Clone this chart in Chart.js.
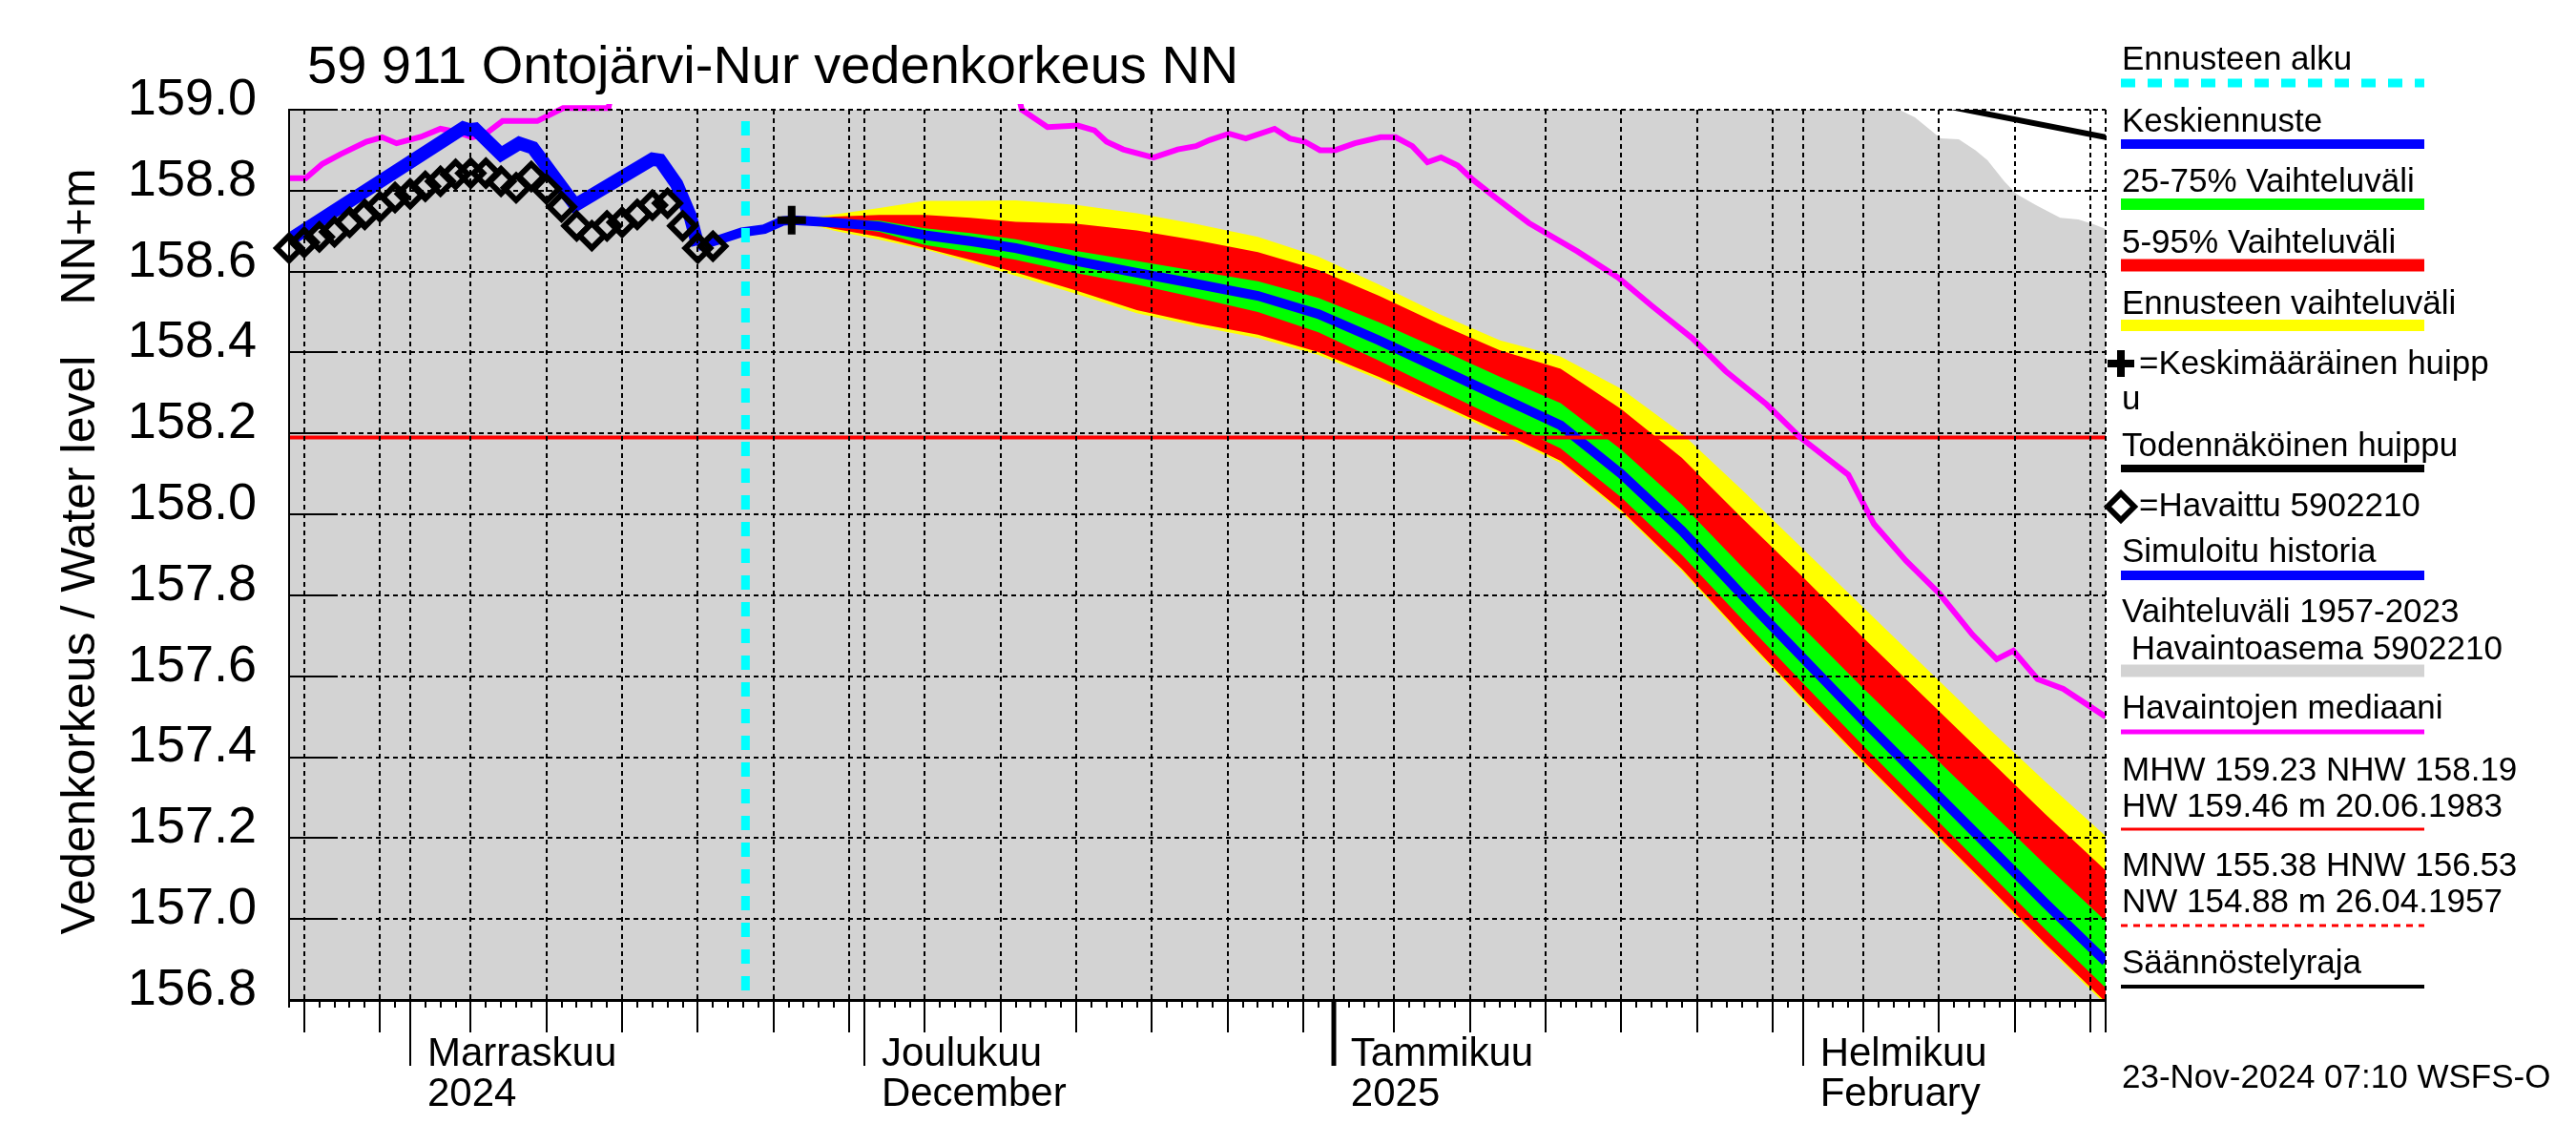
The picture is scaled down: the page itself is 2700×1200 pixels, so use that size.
<!DOCTYPE html>
<html>
<head>
<meta charset="utf-8">
<title>Ontojärvi-Nur vedenkorkeus</title>
<script src="https://cdn.jsdelivr.net/npm/chart.js@4.4.1/dist/chart.umd.min.js"></script>
<style>
  html, body { margin: 0; padding: 0; background: #fff; }
  #wrap { width: 2700px; height: 1200px; }
</style>
</head>
<body>
<div id="wrap"><canvas id="level_chart" width="2700" height="1200"></canvas></div>
<script>
// x = day number, 1 Nov 2024 = 0 (Oct 24 = -8, Dec 1 = 30, Jan 1 = 61, Feb 1 = 92)
const gridDays = [-7, -2, 0, 4, 9, 14, 19, 24, 29, 30, 34, 39, 44, 49, 54, 59, 61, 65, 70, 75, 80, 85, 90, 92, 96, 101, 106, 111, 112];
const monthStarts = [0, 30, 61, 92];
const monthLabels = [['Marraskuu', '2024'], ['Joulukuu', 'December'], ['Tammikuu', '2025'], ['Helmikuu', 'February']];

// Havaittu 5902210 (daily)
const obsDays = [-8, -7, -6, -5, -4, -3, -2, -1, 0, 1, 2, 3, 4, 5, 6, 7, 8, 9, 10, 11, 12, 13, 14, 15, 16, 17, 18, 19, 20];
const obsLevel = [158.658, 158.672, 158.686, 158.698, 158.722, 158.741, 158.760, 158.783, 158.792, 158.811,
  158.823, 158.840, 158.843, 158.843, 158.823, 158.807, 158.835, 158.804, 158.760, 158.713,
  158.689, 158.713, 158.722, 158.741, 158.764, 158.769, 158.713, 158.658, 158.663];

// Simuloitu historia
const simDays = [-8, 3.5, 3.9, 4.3, 6.0, 7.2, 8.1, 10.9, 16.0, 16.5, 17.6, 18.5, 19.0];
const simLevel = [158.678, 158.955, 158.950, 158.952, 158.890, 158.917, 158.906, 158.764, 158.878, 158.875, 158.816, 158.737, 158.665];

// Keskiennuste
const fcDays = [19.0, 20.5, 21.9, 23.4, 24.6, 25.3, 28, 31, 34, 37, 40, 44, 48, 52, 56, 60, 64, 68, 72, 76, 80, 84, 88, 92, 96, 100, 104, 108, 112];
const fcMedian = [158.663, 158.680, 158.697, 158.705, 158.725, 158.727, 158.721, 158.712, 158.690, 158.675,
  158.658, 158.626, 158.597, 158.569, 158.540, 158.495, 158.430, 158.360, 158.290, 158.220,
  158.100, 157.960, 157.800, 157.645, 157.490, 157.340, 157.190, 157.040, 156.895];

// forecast spread
const bandDays = [25.3, 28, 31, 34, 37, 40, 44, 48, 52, 56, 60, 64, 68, 72, 76, 80, 84, 88, 92, 96, 100, 104, 108, 112];
const fcMax = [158.727, 158.741, 158.757, 158.775, 158.775, 158.776, 158.765, 158.744, 158.717, 158.686, 158.637, 158.568,
  158.495, 158.430, 158.390, 158.310, 158.200, 158.060, 157.915, 157.770, 157.625, 157.480, 157.340, 157.205];
const fc95 = [158.727, 158.736, 158.740, 158.740, 158.733, 158.723, 158.718, 158.702, 158.677, 158.648, 158.604, 158.540,
  158.470, 158.405, 158.360, 158.260, 158.140, 157.990, 157.845, 157.695, 157.550, 157.405, 157.260, 157.120];
const fc75 = [158.727, 158.729, 158.726, 158.707, 158.695, 158.680, 158.651, 158.626, 158.601, 158.576, 158.535, 158.475,
  158.408, 158.340, 158.275, 158.160, 158.025, 157.870, 157.720, 157.570, 157.425, 157.280, 157.135, 156.995];
const fc25 = [158.727, 158.713, 158.698, 158.666, 158.648, 158.629, 158.596, 158.568, 158.535, 158.500, 158.450, 158.380,
  158.307, 158.235, 158.163, 158.042, 157.900, 157.740, 157.583, 157.428, 157.277, 157.126, 156.975, 156.830];
const fc5 = [158.727, 158.706, 158.686, 158.658, 158.629, 158.598, 158.553, 158.505, 158.472, 158.444, 158.401, 158.340,
  158.273, 158.205, 158.132, 158.010, 157.865, 157.703, 157.545, 157.390, 157.240, 157.090, 156.940, 156.795];
const fcMin = [158.727, 158.701, 158.679, 158.655, 158.623, 158.590, 158.545, 158.497, 158.465, 158.436, 158.394, 158.333,
  158.267, 158.198, 158.127, 158.005, 157.860, 157.697, 157.539, 157.384, 157.234, 157.084, 156.934, 156.789];

// Vaihteluväli 1957-2023
const rangeDays = [-8, 97.9, 98.1, 99.4, 101.1, 102.3, 103.4, 104.2, 105.3, 106.1, 107.4, 109.0, 110.2, 111.2, 112];
const rangeHigh = [159.3, 159.05, 159.005, 158.981, 158.929, 158.927, 158.900, 158.875, 158.823, 158.792, 158.764, 158.733, 158.729, 158.717, 158.705];
const rangeLowDays = [-8, 112];
const rangeLow = [156.0, 156.0];

// Havaintojen mediaani
const medDays = [-8, -6.9, -5.8, -4.6, -2.9, -1.85, -0.9, 0.7, 2.0, 3.1, 4.1, 5.0, 6.1, 8.4, 10.1, 13.1, 13.6, 39.8, 40.4, 42.1,
  44.1, 45.2, 46.0, 47.1, 49.1, 50.7, 51.9, 52.8, 54.1, 55.2, 57.1, 58.1, 59.1, 60.1, 61.1, 62.4, 64.1, 65.1, 66.2, 67.2,
  68.1, 69.2, 70.2, 71.8, 73.9, 77.1, 79.8, 82.0, 84.7, 86.9, 89.6, 91.8, 95.0, 96.7, 98.8, 101.0, 103.2, 104.8, 105.9, 107.5,
  109.2, 112];
const medLevel = [158.831, 158.831, 158.866, 158.890, 158.921, 158.932, 158.917, 158.933, 158.953, 158.945, 158.932, 158.941, 158.972, 158.972, 159.004, 159.004, 159.1, 159.1, 159.0, 158.957,
  158.961, 158.949, 158.921, 158.902, 158.882, 158.902, 158.910, 158.925, 158.941, 158.929, 158.953, 158.929, 158.921, 158.900, 158.900, 158.917, 158.932, 158.932, 158.910, 158.870,
  158.882, 158.862, 158.827, 158.780, 158.720, 158.650, 158.585, 158.516, 158.435, 158.354, 158.272, 158.191, 158.098, 157.976, 157.886, 157.805, 157.703, 157.642, 157.663, 157.593,
  157.569, 157.500];

// Säännöstelyraja, NHW, mean peak, forecast start
const regDays = [100, 112];
const regLevel = [159.02, 158.932];
const nhwLevel = 158.19;
const peakDay = 25.2;
const peakLevel = 158.727;
const forecastStart = 22.15;

function pairs(xs, ys) {
  return xs.map((d, i) => ({ x: d, y: ys[i] }));
}

const FONT = '"Liberation Sans", Arial, Helvetica, sans-serif';
Chart.defaults.font.family = FONT;
Chart.defaults.color = '#000';

const extras = {
  id: 'extras',
  afterDraw(chart) {
    const ctx = chart.ctx;
    const xs = chart.scales.x;
    const ys = chart.scales.y;
    const area = chart.chartArea;
    ctx.save();
    ctx.setLineDash([]);
    ctx.strokeStyle = '#000';

    // solid stubs at the left end of level grid lines
    ctx.lineWidth = 2;
    ys.ticks.forEach(t => {
      const py = Math.round(ys.getPixelForValue(t.value));
      ctx.beginPath();
      ctx.moveTo(area.left, py);
      ctx.lineTo(area.left + 46, py);
      ctx.stroke();
    });

    // day ticks below the axis
    for (let d = -8; d <= 112; d++) {
      let len = 8;
      if (gridDays.includes(d)) len = 34;
      if (monthStarts.includes(d)) len = 69;
      ctx.lineWidth = d === 61 ? 5 : 2;
      const px = Math.round(xs.getPixelForValue(d));
      ctx.beginPath();
      ctx.moveTo(px, area.bottom);
      ctx.lineTo(px, area.bottom + len);
      ctx.stroke();
    }

    // title
    ctx.fillStyle = '#000';
    ctx.textBaseline = 'alphabetic';
    ctx.textAlign = 'left';
    ctx.font = '56px ' + FONT;
    ctx.fillText('59 911 Ontojärvi-Nur vedenkorkeus NN', 322, 87);

    // y axis title
    ctx.font = '50px ' + FONT;
    ctx.textAlign = 'center';
    ctx.save();
    ctx.translate(99, 676);
    ctx.rotate(-Math.PI / 2);
    ctx.fillText('Vedenkorkeus / Water level', 0, 0);
    ctx.restore();
    ctx.save();
    ctx.translate(99, 248);
    ctx.rotate(-Math.PI / 2);
    ctx.fillText('NN+m', 0, 0);
    ctx.restore();

    // legend
    const lx = 2224, l0 = 2223, l1 = 2541;
    function bar(yy, color, width, dash) {
      ctx.save();
      ctx.strokeStyle = color;
      ctx.lineWidth = width;
      ctx.setLineDash(dash || []);
      ctx.beginPath();
      ctx.moveTo(l0, yy);
      ctx.lineTo(l1, yy);
      ctx.stroke();
      ctx.restore();
    }
    ctx.font = '35px ' + FONT;
    ctx.textAlign = 'left';
    ctx.fillText('Ennusteen alku', lx, 73);
    bar(87, '#00ffff', 9, [15, 13]);
    ctx.fillText('Keskiennuste', lx, 138);
    bar(151, '#0000ff', 10);
    ctx.fillText('25-75% Vaihteluväli', lx, 201);
    bar(214, '#00ff00', 12);
    ctx.fillText('5-95% Vaihteluväli', lx, 265);
    bar(278, '#ff0000', 13);
    ctx.fillText('Ennusteen vaihteluväli', lx, 329);
    bar(341, '#ffff00', 12);

    ctx.lineWidth = 8;
    ctx.beginPath();
    ctx.moveTo(2209, 381); ctx.lineTo(2237, 381);
    ctx.moveTo(2223, 367); ctx.lineTo(2223, 395);
    ctx.stroke();
    ctx.fillText('=Keskimääräinen huipp', 2242, 392);
    ctx.fillText('u', lx, 429);

    ctx.fillText('Todennäköinen huippu', lx, 478);
    bar(491, '#000', 8);

    ctx.lineWidth = 6;
    ctx.beginPath();
    ctx.moveTo(2209, 531); ctx.lineTo(2223, 517); ctx.lineTo(2237, 531); ctx.lineTo(2223, 545);
    ctx.closePath();
    ctx.stroke();
    ctx.fillText('=Havaittu 5902210', 2242, 541);

    ctx.fillText('Simuloitu historia', lx, 589);
    bar(603, '#0000ff', 10);
    ctx.fillText('Vaihteluväli 1957-2023', lx, 652);
    ctx.fillText(' Havaintoasema 5902210', lx, 691);
    bar(703, '#d3d3d3', 13);
    ctx.fillText('Havaintojen mediaani', lx, 753);
    bar(767, '#ff00ff', 5);
    ctx.fillText('MHW 159.23 NHW 158.19', lx, 818);
    ctx.fillText('HW 159.46 m 20.06.1983', lx, 856);
    bar(869, '#ff0000', 3);
    ctx.fillText('MNW 155.38 HNW 156.53', lx, 918);
    ctx.fillText('NW 154.88 m 26.04.1957', lx, 956);
    bar(970, '#ff0000', 3, [7, 6]);
    ctx.fillText('Säännöstelyraja', lx, 1020);
    bar(1034, '#000', 4);

    ctx.fillText('23-Nov-2024 07:10 WSFS-O', lx, 1140);
    ctx.restore();
  }
};

const level_chart = document.getElementById('level_chart');

new Chart(level_chart, {
  type: 'line',
  data: {
    datasets: [
      {
        label: 'Vaihteluväli 1957-2023',
        data: pairs(rangeDays, rangeHigh),
        borderWidth: 0, pointRadius: 0, clip: 0, order: 20,
        fill: '+1', backgroundColor: '#d3d3d3'
      },
      {
        label: 'range low',
        data: pairs(rangeLowDays, rangeLow),
        borderWidth: 0, pointRadius: 0, clip: 0, order: 20, fill: false
      },
      {
        label: 'Ennusteen vaihteluväli',
        data: pairs(bandDays, fcMax),
        borderWidth: 0, pointRadius: 0, clip: 0, order: 18,
        fill: '+1', backgroundColor: '#ffff00'
      },
      {
        label: 'min',
        data: pairs(bandDays, fcMin),
        borderWidth: 0, pointRadius: 0, clip: 0, order: 18, fill: false
      },
      {
        label: '5-95% Vaihteluväli',
        data: pairs(bandDays, fc95),
        borderWidth: 0, pointRadius: 0, clip: 0, order: 16,
        fill: '+1', backgroundColor: '#ff0000'
      },
      {
        label: '5%',
        data: pairs(bandDays, fc5),
        borderWidth: 0, pointRadius: 0, clip: 0, order: 16, fill: false
      },
      {
        label: '25-75% Vaihteluväli',
        data: pairs(bandDays, fc75),
        borderWidth: 0, pointRadius: 0, clip: 0, order: 14,
        fill: '+1', backgroundColor: '#00ff00'
      },
      {
        label: '25%',
        data: pairs(bandDays, fc25),
        borderWidth: 0, pointRadius: 0, clip: 0, order: 14, fill: false
      },
      {
        label: 'Keskiennuste',
        data: pairs(fcDays, fcMedian),
        borderColor: '#0000ff', borderWidth: 10, pointRadius: 0, clip: 0, order: 12, fill: false
      },
      {
        label: 'NHW',
        data: [{ x: -8, y: nhwLevel }, { x: 112, y: nhwLevel }],
        borderColor: '#ff0000', borderWidth: 4, pointRadius: 0, clip: 0, order: 11, fill: false
      },
      {
        label: 'Säännöstelyraja',
        data: pairs(regDays, regLevel),
        borderColor: '#000', borderWidth: 6, pointRadius: 0, clip: 0, order: 11, fill: false
      },
      {
        label: 'Havaintojen mediaani',
        data: pairs(medDays, medLevel),
        borderColor: '#ff00ff', borderWidth: 6, pointRadius: 0,
        clip: { left: 0, top: 6, right: 0, bottom: 0 }, order: 10, fill: false
      },
      {
        label: 'Simuloitu historia',
        data: pairs(simDays, simLevel),
        borderColor: '#0000ff', borderWidth: 14, pointRadius: 0, clip: 0, order: 9, fill: false
      },
      {
        label: 'Havaittu 5902210',
        data: pairs(obsDays, obsLevel),
        showLine: false, pointStyle: 'rectRot', pointRadius: 13, pointBorderWidth: 6,
        pointBorderColor: '#000', pointBackgroundColor: 'rgba(0,0,0,0)', clip: false, order: 8
      },
      {
        label: 'Keskimääräinen huippu',
        data: [{ x: peakDay, y: peakLevel }],
        showLine: false, pointStyle: 'cross', pointRadius: 15, pointBorderWidth: 8,
        pointBorderColor: '#000', clip: false, order: 7
      },
      {
        label: 'Ennusteen alku',
        data: [{ x: forecastStart, y: 159.0 }, { x: forecastStart, y: 156.8 }],
        borderColor: '#00ffff', borderWidth: 9, borderDash: [15, 13], borderDashOffset: 16,
        pointRadius: 0, clip: 0, order: 6, fill: false
      }
    ]
  },
  options: {
    responsive: false,
    animation: false,
    devicePixelRatio: 1,
    events: [],
    layout: { padding: { top: 115, right: 493, bottom: 0, left: 0 } },
    plugins: {
      legend: { display: false },
      tooltip: { enabled: false },
      title: { display: false }
    },
    scales: {
      x: {
        type: 'linear',
        min: -8,
        max: 112,
        afterFit: s => { s.height = 152; },
        afterBuildTicks: s => { s.ticks = gridDays.map(v => ({ value: v })); },
        grid: { z: 1, color: '#000', lineWidth: 2, drawTicks: false },
        border: { display: true, color: '#000', width: 3, dash: [5, 4], z: 1 },
        ticks: {
          autoSkip: false,
          maxRotation: 0,
          minRotation: 0,
          align: 'start',
          labelOffset: 18,
          padding: 36,
          font: { size: 42, lineHeight: 1.0 },
          callback: function (value) {
            const i = monthStarts.indexOf(value);
            return i >= 0 ? monthLabels[i] : '';
          }
        }
      },
      y: {
        min: 156.8,
        max: 159.0,
        afterFit: s => { s.width = 303; },
        grid: { z: 1, color: '#000', lineWidth: 2, drawTicks: false },
        border: { display: true, color: '#000', width: 2, dash: [5, 4], z: 1 },
        ticks: {
          stepSize: 0.2,
          autoSkip: false,
          padding: 34,
          labelOffset: -10,
          font: { size: 54 },
          callback: v => v.toFixed(1)
        }
      }
    }
  },
  plugins: [extras]
});
</script>
</body>
</html>
